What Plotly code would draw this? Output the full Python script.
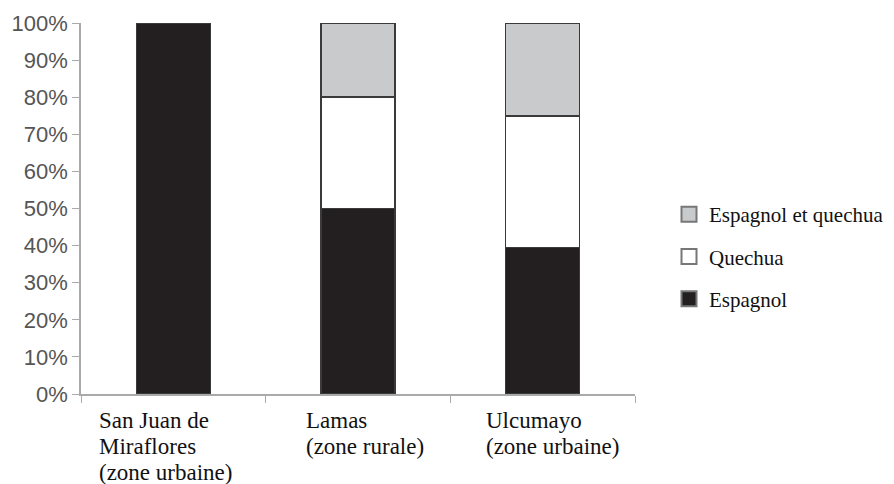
import plotly.graph_objects as go

categories = ["San Juan de Miraflores (zone urbaine)", "Lamas (zone rurale)", "Ulcumayo (zone urbaine)"]
label_lines = [["San Juan de", "Miraflores", "(zone urbaine)"],
               ["Lamas", "(zone rurale)"],
               ["Ulcumayo", "(zone urbaine)"]]
espagnol = [1.00, 0.50, 0.395]
quechua = [0.00, 0.30, 0.355]
esp_quechua = [0.00, 0.20, 0.25]
series_names = ["Espagnol", "Quechua", "Espagnol et quechua"]
colors = {"Espagnol": "#231f20", "Quechua": "#ffffff", "Espagnol et quechua": "#c8cacc"}
tick_vals = [0, 0.1, 0.2, 0.3, 0.4, 0.5, 0.6, 0.7, 0.8, 0.9, 1.0]
tick_text = ["0%", "10%", "20%", "30%", "40%", "50%", "60%", "70%", "80%", "90%", "100%"]

fig = go.Figure()
for name, vals in zip(series_names, [espagnol, quechua, esp_quechua]):
    fig.add_trace(go.Bar(
        x=categories, y=vals, name=name, showlegend=False,
        marker=dict(color=colors[name], line=dict(color="#3a3a3a", width=1.5)),
    ))

# legend proxies (top to bottom)
for name in ["Espagnol et quechua", "Quechua", "Espagnol"]:
    fig.add_trace(go.Scatter(
        x=[None], y=[None], mode="markers", name=name, legendgroup=name,
        marker=dict(symbol="square", size=15, color=colors[name],
                    line=dict(color="#777777", width=2)),
    ))

OFF = 8  # page body margin
SW, SH = 894, 484  # screen size
W, H = SW - OFF, SH - OFF
ml, mt = 81 - OFF, 23 - OFF
mr = W - (635 - OFF)
mb = H - (394 - OFF)
plot_w = W - ml - mr
plot_h = H - mt - mb
axis_bottom = H - mb

annotations = []
xshifts = [-76, -54, -59]
line_centers = [420, 446, 472]
for cat, lines, xs in zip(categories, label_lines, xshifts):
    for i, txt in enumerate(lines):
        annotations.append(dict(
            x=cat, xref="x", y=0, yref="paper", xanchor="left", yanchor="middle",
            xshift=xs, yshift=-((line_centers[i] - OFF) - axis_bottom),
            text=txt, showarrow=False,
            font=dict(family="Liberation Serif, Times New Roman, serif", size=23, color="#111111"),
        ))

fig.update_layout(
    width=W, height=H,
    margin=dict(l=ml, r=mr, t=mt, b=mb, autoexpand=False),
    barmode="stack", bargap=0.6,
    plot_bgcolor="white", paper_bgcolor="white",
    showlegend=True,
    legend=dict(
        x=(669 - OFF - ml) / plot_w, xanchor="left",
        y=(axis_bottom - (194 - OFF)) / plot_h, yanchor="top",
        traceorder="grouped", tracegroupgap=12,
        font=dict(family="Liberation Serif, Times New Roman, serif", size=21, color="#111111"),
        itemsizing="trace", bgcolor="rgba(0,0,0,0)",
    ),
    xaxis=dict(
        showticklabels=False, ticks="outside", tickson="boundaries", ticklen=7,
        tickcolor="#aaaaaa", showline=True, linecolor="#aaaaaa", linewidth=1.5,
        showgrid=False, zeroline=False,
    ),
    yaxis=dict(
        range=[0, 1], tickvals=tick_vals, ticktext=tick_text, ticks="outside", ticklen=7,
        tickcolor="#aaaaaa", showline=True, linecolor="#aaaaaa", linewidth=1.5,
        showgrid=False, zeroline=False,
        tickfont=dict(family="Liberation Sans, Arial, sans-serif", size=22, color="#555555"),
    ),
    annotations=annotations,
)

fig.write_html("out.html")
